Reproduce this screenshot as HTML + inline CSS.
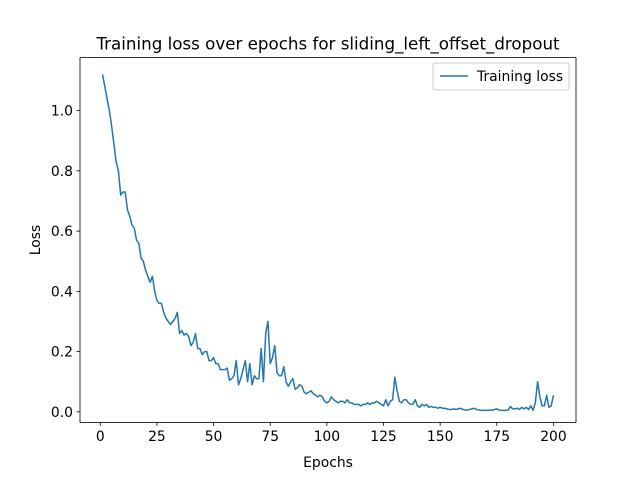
<!DOCTYPE html>
<html><head><meta charset="utf-8"><style>
body{margin:0;background:#fff;}
svg{font-family:"DejaVu Sans","Liberation Sans",sans-serif;}
</style></head><body>
<svg id="chart" width="640" height="480" viewBox="0 0 640 480" xmlns="http://www.w3.org/2000/svg">
<rect width="640" height="480" fill="#fff"/>
<text x="328" y="49.5" font-size="16.7" text-anchor="middle">Training loss over epochs for sliding_left_offset_dropout</text>
<g id="axes"></g>
<text x="328" y="467" font-size="13.9" text-anchor="middle">Epochs</text>
<text transform="translate(40,240) rotate(-90)" font-size="13.9" text-anchor="middle">Loss</text>
<g>
<rect x="433" y="63" width="136" height="27" rx="2" fill="#fff" stroke="#ccc"/>
<line x1="440" y1="76" x2="468" y2="76" stroke="#1f77b4" stroke-width="1.5"/>
<text x="477" y="81" font-size="13.9">Training loss</text>
</g>
</svg>
<script>
const lossValues=[1.12,1.08,1.04,1.0,0.95,0.89,0.83,0.80,0.72,0.73,0.73,0.67,0.65,0.62,0.61,0.57,0.56,0.51,0.50,0.47,0.45,0.43,0.45,0.40,0.37,0.36,0.36,0.33,0.31,0.30,0.29,0.30,0.31,0.33,0.26,0.27,0.255,0.26,0.25,0.22,0.23,0.26,0.21,0.21,0.19,0.20,0.20,0.17,0.17,0.18,0.16,0.16,0.14,0.14,0.14,0.145,0.105,0.11,0.12,0.17,0.09,0.11,0.14,0.17,0.10,0.16,0.09,0.12,0.11,0.11,0.21,0.10,0.26,0.30,0.16,0.18,0.22,0.13,0.12,0.12,0.15,0.10,0.085,0.10,0.11,0.075,0.08,0.09,0.085,0.065,0.06,0.065,0.07,0.06,0.055,0.05,0.055,0.05,0.035,0.03,0.035,0.05,0.04,0.035,0.03,0.035,0.035,0.03,0.04,0.03,0.03,0.025,0.025,0.025,0.02,0.025,0.025,0.03,0.025,0.03,0.03,0.035,0.03,0.025,0.02,0.04,0.02,0.035,0.04,0.115,0.07,0.035,0.03,0.04,0.04,0.03,0.025,0.025,0.04,0.02,0.015,0.025,0.02,0.025,0.015,0.018,0.015,0.015,0.012,0.015,0.012,0.012,0.01,0.008,0.008,0.01,0.008,0.01,0.012,0.008,0.006,0.006,0.008,0.01,0.012,0.008,0.006,0.005,0.005,0.005,0.005,0.006,0.005,0.008,0.01,0.006,0.005,0.005,0.005,0.006,0.018,0.01,0.01,0.012,0.008,0.015,0.01,0.015,0.008,0.02,0.005,0.03,0.10,0.05,0.02,0.02,0.055,0.015,0.02,0.055];
const epochs=lossValues.map((_,i)=>i+1);
const xTicks=[0,25,50,75,100,125,150,175,200];
const yTicks=[0.0,0.2,0.4,0.6,0.8,1.0];
const xDomain=[-8.95,209.95];
const yDomain=[-0.035,1.176];
const L=80,R=576,T=57.6,B=422.4;
const xs=v=>L+(v-xDomain[0])/(xDomain[1]-xDomain[0])*(R-L);
const ys=v=>B-(v-yDomain[0])/(yDomain[1]-yDomain[0])*(B-T);
const ns="http://www.w3.org/2000/svg";
const g=document.getElementById('axes');
function mk(t,a){const e=document.createElementNS(ns,t);for(const k in a)e.setAttribute(k,a[k]);g.appendChild(e);return e;}
const pts=epochs.map((e,i)=>xs(e).toFixed(2)+','+ys(lossValues[i]).toFixed(2)).join(' ');
const line=mk('polyline',{points:pts,fill:'none',stroke:'#1f77b4','stroke-width':1.5,'stroke-linejoin':'round'});


const frame=mk('rect',{x:L,y:T,width:R-L,height:B-T,fill:'none',stroke:'#000','stroke-width':0.8});


xTicks.forEach(v=>{const x=xs(v);
 const tk=mk('line',{x1:x,y1:B,x2:x,y2:B+3.5,stroke:'#000','stroke-width':0.8});
 
 
 const t=mk('text',{x:x,y:B+18.5,'font-size':13.9,'text-anchor':'middle'});t.textContent=v;
 
 });
yTicks.forEach(v=>{const y=ys(v);
 const tk=mk('line',{x1:L-3.5,y1:y,x2:L,y2:y,stroke:'#000','stroke-width':0.8});
 
 
 const t=mk('text',{x:L-7,y:y+5,'font-size':13.9,'text-anchor':'end'});t.textContent=v.toFixed(1);
 
 });
</script>
</body></html>
